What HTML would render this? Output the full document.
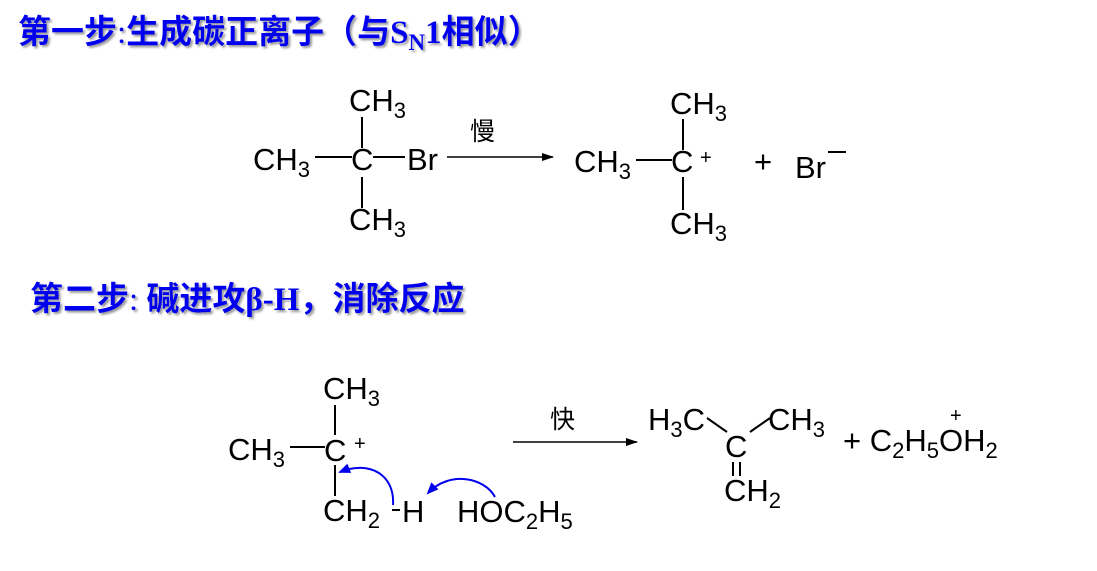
<!DOCTYPE html>
<html><head><meta charset="utf-8"><style>
body{margin:0;background:#fff}
svg{display:block}
.t{font-family:"Liberation Sans","Noto Sans CJK SC",sans-serif;font-size:31px;fill:#000}
.h{font-family:"Liberation Serif","Noto Sans CJK SC",sans-serif;font-size:33px;font-weight:bold;fill:#0000ee}
.c{font-family:"Noto Sans CJK SC",sans-serif;font-size:25px;fill:#000}
.s{font-size:22px}
</style></head><body>
<svg width="1097" height="571" viewBox="0 0 1097 571">
<defs>
<filter id="sh"><feDropShadow dx="2" dy="2" stdDeviation="1" flood-color="#999"/></filter>
<marker id="ah" markerWidth="12" markerHeight="8" refX="11" refY="4" orient="auto" markerUnits="userSpaceOnUse"><path d="M0,0 L12,4 L0,8 z" fill="#000"/></marker>
<marker id="bh" markerWidth="12" markerHeight="10" refX="10" refY="5" orient="auto" markerUnits="userSpaceOnUse"><path d="M0,0 L12,5 L0,10 z" fill="#0000ee"/></marker>
</defs>
<g filter="url(#sh)">
<text class="h" x="18" y="43">第一步<tspan font-weight="normal">:</tspan>生成碳正离子（与S<tspan font-size="23" dy="7">N</tspan><tspan dy="-7">1相似）</tspan></text>
<text class="h" x="30" y="310">第二步<tspan font-weight="normal">: </tspan>碱进攻β-H，消除反应</text>
</g>
<g stroke="#000" stroke-width="2" fill="none">
<line x1="362" y1="117" x2="362" y2="148"/><line x1="362" y1="177" x2="362" y2="208"/>
<line x1="315" y1="157" x2="352" y2="157"/>
<line x1="373" y1="157" x2="405" y2="157"/>
<line x1="447" y1="157" x2="553" y2="157" marker-end="url(#ah)" stroke-width="1.5"/>
<line x1="683" y1="119" x2="683" y2="150"/><line x1="683" y1="177" x2="683" y2="210"/>
<line x1="636" y1="160" x2="672" y2="160"/>
<line x1="335" y1="405" x2="335" y2="435"/><line x1="335" y1="465" x2="335" y2="496"/>
<line x1="290" y1="447" x2="325" y2="447"/>
<line x1="392" y1="510" x2="400" y2="510"/>
<line x1="513" y1="442" x2="637" y2="442" marker-end="url(#ah)" stroke-width="1.5"/>
<line x1="707" y1="418" x2="727" y2="432"/><line x1="750" y1="432" x2="770" y2="418"/>
<line x1="733" y1="462" x2="733" y2="476"/><line x1="740" y1="462" x2="740" y2="476"/>
</g>
<g stroke="#0000ee" stroke-width="2" fill="none">
<path d="M393,505 C395,475 370,460 340,472" marker-end="url(#bh)"/>
<path d="M495,497 C485,478 450,470 428,493" marker-end="url(#bh)"/>
</g>
<g class="t">
<text x="349" y="111">CH<tspan class="s" dy="7">3</tspan></text>
<text x="253" y="170">CH<tspan class="s" dy="7">3</tspan></text>
<text x="351" y="170">C</text>
<text x="407" y="170">Br</text>
<text x="349" y="230">CH<tspan class="s" dy="7">3</tspan></text>
<text class="c" x="470" y="140">慢</text>
<text x="670" y="114">CH<tspan class="s" dy="7">3</tspan></text>
<text x="574" y="172">CH<tspan class="s" dy="7">3</tspan></text>
<text x="671" y="172">C</text>
<text x="700" y="164" font-size="20">+</text>
<text x="754" y="172">+</text>
<text x="795" y="178">Br</text>
<line x1="828" y1="152" x2="846" y2="152" stroke="#000" stroke-width="2"/>
<text x="670" y="234">CH<tspan class="s" dy="7">3</tspan></text>
<text x="323" y="399">CH<tspan class="s" dy="7">3</tspan></text>
<text x="228" y="460">CH<tspan class="s" dy="7">3</tspan></text>
<text x="324" y="461">C</text>
<text x="354" y="450" font-size="20">+</text>
<text x="323" y="521">CH<tspan class="s" dy="7">2</tspan></text>
<text x="402" y="522">H</text>
<text x="457" y="522">HOC<tspan class="s" dy="7">2</tspan><tspan dy="-7">H</tspan><tspan class="s" dy="7">5</tspan></text>
<text class="c" x="550" y="428">快</text>
<text x="648" y="430">H<tspan class="s" dy="7">3</tspan><tspan dy="-7">C</tspan></text>
<text x="768" y="430">CH<tspan class="s" dy="7">3</tspan></text>
<text x="725" y="457">C</text>
<text x="724" y="501">CH<tspan class="s" dy="7">2</tspan></text>
<text x="843" y="451">+ C<tspan class="s" dy="7">2</tspan><tspan dy="-7">H</tspan><tspan class="s" dy="7">5</tspan><tspan dy="-7">OH</tspan><tspan class="s" dy="7">2</tspan></text>
<text x="950" y="422" font-size="20">+</text>
</g>
</svg>
</body></html>
